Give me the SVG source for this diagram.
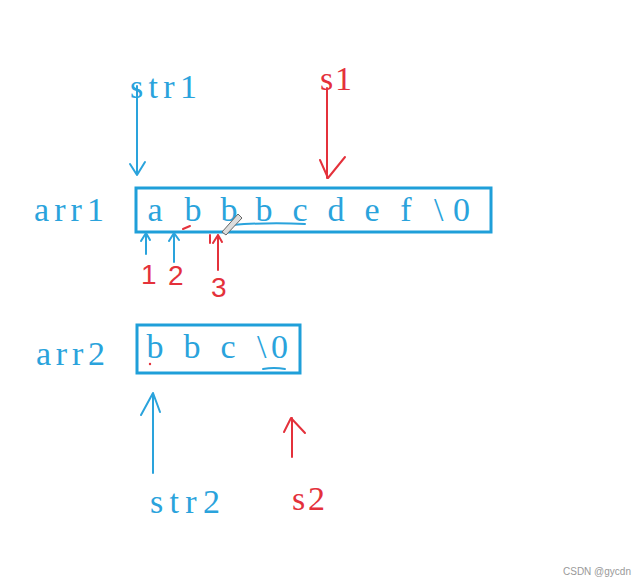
<svg xmlns="http://www.w3.org/2000/svg" width="640" height="582" viewBox="0 0 640 582">
<style>
.b{fill:#2aa3dc;font-family:"Liberation Serif",serif;font-size:34px}
.r{fill:#e4313b;font-family:"Liberation Serif",serif;font-size:34px}
.h{fill:#e4313b;font-family:"Liberation Sans",sans-serif;font-size:28px}
.box{fill:none;stroke:#1f9fd9;stroke-width:3}
.bl{fill:none;stroke:#2aa3dc;stroke-width:2;stroke-linecap:round;stroke-linejoin:round}
.rl{fill:none;stroke:#e4313b;stroke-width:2;stroke-linecap:round;stroke-linejoin:round}
.c{text-anchor:middle}
</style>
<rect width="640" height="582" fill="#fff"/>
<g id="arr1">
<text class="b" x="34" y="221" textLength="70">arr1</text>
<rect class="box" x="136" y="188" width="355" height="44"/>
<text class="b c" x="155" y="221">a</text>
<text class="b c" x="193" y="221">b</text>
<text class="b c" x="229" y="221">b</text>
<text class="b c" x="264" y="221">b</text>
<text class="b c" x="300" y="221">c</text>
<text class="b c" x="336" y="221">d</text>
<text class="b c" x="372" y="221">e</text>
<text class="b c" x="406" y="221">f</text>
<text class="b" x="434" y="221" textLength="36">\0</text>
<path class="bl" d="M232 225 Q270 222 305 224" stroke-width="1.5"/>
<path d="M222 232 L238 214 L242 218 L226 235 Z" fill="#ddd" stroke="#666" stroke-width="1"/>
</g>
<g id="arr2">
<text class="b" x="36" y="365" textLength="69">arr2</text>
<rect class="box" x="137" y="325" width="163" height="48"/>
<text class="b c" x="155" y="358">b</text>
<text class="b c" x="192" y="358">b</text>
<text class="b c" x="228" y="358">c</text>
<text class="b" x="257" y="358" textLength="31">\0</text>
<path class="bl" d="M263 369 Q274 367 285 369" stroke-width="1.5"/>
<circle cx="150" cy="364" r="1.2" fill="#e4313b"/>
</g>
<g id="str1"><text class="b" x="130" y="98" textLength="67">str1</text></g>
<g id="s1"><text class="r" x="320" y="90" textLength="32">s1</text></g>
<g id="str2"><text class="b" x="150" y="513" textLength="70">str2</text></g>
<g id="s2"><text class="r" x="292" y="510" textLength="33">s2</text></g>
<g id="labels">
<text class="h" x="141" y="284">1</text>
<text class="h" x="168" y="285">2</text>
<text class="h" x="211" y="297">3</text>
</g>
<g id="connectors">
<path class="bl" d="M137 86 V175 M130 164 L137 175 L145 162"/>
<path class="rl" d="M327 88 V178 M320 160 L328 178 L345 157"/>
<path class="bl" d="M146 254 V234 M141 241 L146 233 L150 240"/>
<path class="bl" d="M174 262 V234 M169 241 L174 233 L179 240"/>
<path class="rl" d="M218 270 V235 M213 243 L218 235 L222 242 M210 235 V243"/>
<path class="rl" d="M183 229 L190 226" stroke-width="1.5"/>
<path class="bl" d="M153 473 V394 M141 415 L153 393 L160 412"/>
<path class="rl" d="M292 457 V418 M284 432 L291 418 L305 433"/>
</g>
<text x="563" y="575" font-family="Liberation Sans,sans-serif" font-size="10" fill="#999">CSDN @gycdn</text>
</svg>
